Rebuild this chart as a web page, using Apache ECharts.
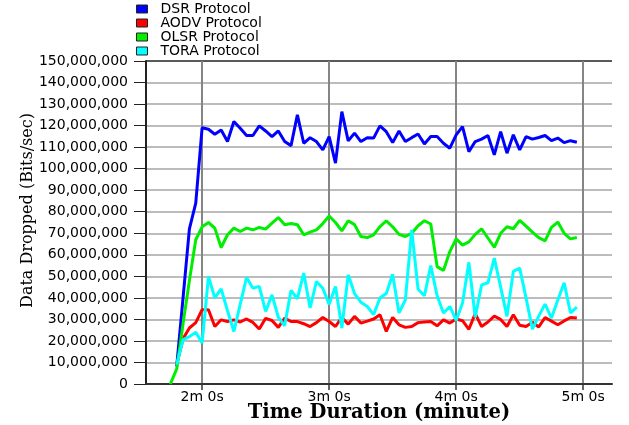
<!DOCTYPE html>
<html>
<head>
<meta charset="utf-8">
<script src="https://cdn.jsdelivr.net/npm/echarts@6/dist/echarts.min.js"></script>
<style>html,body{margin:0;padding:0;background:#fff}#c{width:629px;height:425px}</style>
</head>
<body>
<div id="c"></div>
<script>
// time in seconds
const times = [105,108,111,114,117,120,123,126,129,132,135,138,141,144,147,150,153,156,159,162,165,168,171,174,177,180,183,186,189,192,195,198,201,204,207,210,213,216,219,222,225,228,231,234,237,240,243,246,249,252,255,258,261,264,267,270,273,276,279,282,285,288,291,294,297];
// values in millions of bits/sec
const dsr = [null,8.2,40,72,84,119,118.3,116,118,112.6,121.9,118.8,115.4,115.4,119.9,117.5,114.9,117.5,112.6,110.7,125,111.8,114.4,112.6,108.7,114.9,102.6,126.5,112.9,116.5,112.6,114.4,114.2,119.9,117.2,112.1,117.5,112.6,114.4,116.1,111.5,114.9,114.9,111.8,109.5,115.7,119.5,107.9,112.6,113.7,115.4,106.4,117.2,107.2,115.7,108.7,114.9,113.7,114.5,115.4,113,114.2,112.1,113,112.3];
const aodv = [null,9,21,26,28.5,34.5,34.5,26.7,29.8,29,29.8,28.8,30.2,28.6,25.5,30.5,29.5,26.3,30.6,29,29,28,26.7,28.5,30.9,29,26.7,30.9,27.8,31.4,28.3,29.2,30.2,32.2,24.4,30.9,27.5,26.3,26.7,28.5,28.8,29,27,29.8,28.3,30.2,29.4,25.4,32.7,26.7,28.8,31.5,30,26.7,32.2,27.3,26.7,28.7,26.5,30.9,29.2,27.5,29.3,30.9,30.6];
const olsr = [0,7,28,48,67,73,75,72.4,63.4,69.3,72.4,70.8,72.4,71.6,72.7,71.9,74.7,77.3,74,74.5,74,69.3,70.5,71.6,74.5,78,75,71.1,75.8,74,68.5,68,69.3,73.1,75.8,73,69.5,68.5,70,73.5,75.8,74.3,54.5,52.7,61.5,67.4,64.5,66,69.5,72,67.8,63.5,70,73,72.1,76,73.3,70.5,68,66.5,72.7,75.2,70,67.4,68];
const tora = [null,9,20.6,22,24,19,49.9,40,44.2,34,24.4,37,49.5,44.5,45.3,33.7,41.4,31,27,43.5,39.6,51.5,35.3,47.6,44.5,37,45.3,26,50.7,42,38,36,32.2,39.9,42,51,33,39,71.6,44,41,55,41,33,36,29.5,37.6,56.5,31,46,47,58.5,45,31.4,52.3,53.8,40,25.5,31.5,37.1,30.6,39,47,33,35.7];

const seriesNames = ['DSR Protocol','AODV Protocol','OLSR Protocol','TORA Protocol'];
const seriesColors = ['#0000ff','#ff0000','#00ee00','#00ffff'];
const xTickValues = [120,180,240,300];
const xTickLabels = ['2m 0s','3m 0s','4m 0s','5m 0s'];

const chart = echarts.init(document.getElementById('c'), null, {renderer:'canvas'});
const allData = [dsr, aodv, olsr, tora];
const hGridColors = [];
for (let i = 0; i < 15; i++) hGridColors.push('#a6a6a6');
hGridColors.push('#222222');

chart.setOption({
  animation: false,
  backgroundColor: '#ffffff',
  color: seriesColors,
  legend: {
    orient: 'vertical', left: 131, top: -3,
    icon: 'rect', itemWidth: 11, itemHeight: 8, itemGap: 0,
    itemStyle: {borderColor: '#222', borderWidth: 1},
    textStyle: {fontFamily: 'DejaVu Sans', fontSize: 14, color: '#000', lineHeight: 14, padding: [0,0,0,8]},
    data: seriesNames
  },
  grid: {left: 146, right: 17, top: 61, bottom: 41, outerBoundsMode: 'none', containLabel: false},
  xAxis: {
    type: 'value', min: 93.5, max: 313.6,
    name: 'Time Duration (minute)', nameLocation: 'middle', nameGap: 19, nameMoveOverlap: false,
    nameTextStyle: {fontFamily: 'DejaVu Serif', fontWeight: 'bold', fontSize: 19.5, color: '#000'},
    axisLine: {show: true, onZero: false, lineStyle: {color: '#333', width: 2}},
    axisTick: {show: true, length: 6, customValues: xTickValues, lineStyle: {color: '#333', width: 1.5}},
    axisLabel: {customValues: xTickValues, margin: 6, fontFamily: 'DejaVu Sans', fontSize: 14, color: '#000',
      formatter: function (v) { return xTickLabels[xTickValues.indexOf(v)]; }},
    splitLine: {show: true, lineStyle: {color: '#858585', width: 2}}
  },
  yAxis: {
    type: 'value', min: 0, max: 150, interval: 10,
    name: 'Data Dropped (Bits/sec)', nameLocation: 'middle', nameGap: 110, nameMoveOverlap: false,
    nameTextStyle: {fontFamily: 'DejaVu Serif', fontSize: 16, color: '#000', padding: [0,0,0,24]},
    axisLine: {show: true, lineStyle: {color: '#222', width: 2}},
    axisTick: {show: true, length: 12, lineStyle: {color: '#222', width: 1}},
    axisLabel: {margin: 18, fontFamily: 'DejaVu Sans', fontSize: 14, color: '#000',
      formatter: function (v) { return Math.round(v * 1e6).toLocaleString('en-US'); }},
    splitLine: {show: true, lineStyle: {color: hGridColors, width: 1.5}}
  },
  series: seriesNames.map(function (name, k) {
    return {
      name: name, type: 'line', showSymbol: false, symbol: 'none',
      lineStyle: {width: 3, color: seriesColors[k]},
      itemStyle: {color: seriesColors[k]},
      data: times.map(function (t, i) { return [t, allData[k][i]]; })
    };
  })
});
</script>
</body>
</html>
